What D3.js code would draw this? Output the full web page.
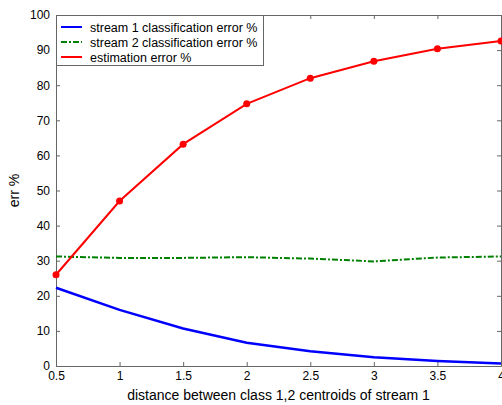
<!DOCTYPE html>
<html>
<head>
<meta charset="utf-8">
<script src="https://cdn.jsdelivr.net/npm/d3@7"></script>
<style>
  body { margin: 0; background: #fff; }
  svg { display: block; font-family: "Liberation Sans", Arial, sans-serif; }
</style>
</head>
<body>
<svg id="chart" width="502" height="405"></svg>
<script>
var distance = [0.5, 1, 1.5, 2, 2.5, 3, 3.5, 4];
var stream1Err = [22.3, 16.0, 10.7, 6.6, 4.2, 2.5, 1.4, 0.7];
var stream2Err = [31.2, 30.8, 30.8, 31.0, 30.6, 29.8, 30.9, 31.2];
var estimErr = [26.0, 47.0, 63.2, 74.7, 82.0, 86.8, 90.4, 92.6];
var xTicks = [0.5, 1, 1.5, 2, 2.5, 3, 3.5, 4];
var yTicks = [0, 10, 20, 30, 40, 50, 60, 70, 80, 90, 100];
var legendNames = ["stream 1 classification error %", "stream 2 classification error %", "estimation error %"];

var margin = {top: 15, right: 1, bottom: 39, left: 56};
var width = 502 - margin.left - margin.right,
    height = 405 - margin.top - margin.bottom;

var svg = d3.select("#chart");
var g = svg.append("g")
    .attr("transform", "translate(" + margin.left + "," + margin.top + ")");

var x = d3.scaleLinear().domain([0.5, 4]).range([0, width]);
var y = d3.scaleLinear().domain([0, 100]).range([height, 0]);

var axisColor = "#666";

// box axes, all ticks pointing inward
var axBottom = g.append("g")
    .attr("transform", "translate(0," + height + ")")
    .call(d3.axisBottom(x).tickValues(xTicks).tickSizeInner(-4).tickSizeOuter(0).tickPadding(5).tickFormat(d3.format("")));
var axTop = g.append("g")
    .call(d3.axisTop(x).tickValues(xTicks).tickSizeInner(-4).tickSizeOuter(0).tickFormat(""));
var axLeft = g.append("g")
    .call(d3.axisLeft(y).tickValues(yTicks).tickSizeInner(-4).tickSizeOuter(0).tickPadding(6));
var axRight = g.append("g")
    .attr("transform", "translate(" + width + ",0)")
    .call(d3.axisRight(y).tickValues(yTicks).tickSizeInner(-4).tickSizeOuter(0).tickFormat(""));

[axBottom, axTop, axLeft, axRight].forEach(function(a) {
    a.select(".domain").attr("stroke", axisColor).attr("stroke-width", 1);
    a.selectAll(".tick line").attr("stroke", axisColor);
    a.selectAll(".tick text").attr("fill", "#000").style("font-size", "12px");
});

var line = d3.line()
    .x(function(d, i) { return x(distance[i]); })
    .y(function(d) { return y(d); });

g.append("path")
    .datum(stream2Err)
    .attr("fill", "none")
    .attr("stroke", "#008000")
    .attr("stroke-width", 2)
    .attr("stroke-dasharray", "6,2,2,2")
    .attr("d", line);

g.append("path")
    .datum(stream1Err)
    .attr("fill", "none")
    .attr("stroke", "#0000ff")
    .attr("stroke-width", 2.5)
    .attr("d", line);

g.append("path")
    .datum(estimErr)
    .attr("fill", "none")
    .attr("stroke", "#ff0000")
    .attr("stroke-width", 2)
    .attr("d", line);

g.selectAll(".dot")
    .data(estimErr)
    .enter()
  .append("circle")
    .attr("class", "dot")
    .attr("cx", function(d, i) { return x(distance[i]); })
    .attr("cy", function(d) { return y(d); })
    .attr("r", 3.5)
    .attr("fill", "#ff0000");

// legend
var legend = g.append("g");
legend.append("rect")
    .attr("x", 0.5).attr("y", 0.5)
    .attr("width", 207).attr("height", 50)
    .attr("fill", "#fff")
    .attr("stroke", axisColor);

var legStyles = [
    {color: "#0000ff", dash: null},
    {color: "#008000", dash: "6,2,2,2"},
    {color: "#ff0000", dash: null}
];
legendNames.forEach(function(name, i) {
    var ly = 12 + i * 15;
    legend.append("line")
        .attr("x1", 5).attr("x2", 26)
        .attr("y1", ly).attr("y2", ly)
        .attr("stroke", legStyles[i].color)
        .attr("stroke-width", 2)
        .attr("stroke-dasharray", legStyles[i].dash);
    legend.append("text")
        .attr("x", 34).attr("y", ly + 4.5)
        .style("font-size", "12.5px")
        .text(name);
});

// axis labels
svg.append("text")
    .attr("x", margin.left + width / 2)
    .attr("y", 400)
    .attr("text-anchor", "middle")
    .style("font-size", "14px")
    .text("distance between class 1,2 centroids of stream 1");

svg.append("text")
    .attr("transform", "translate(19," + (margin.top + height / 2) + ") rotate(-90)")
    .attr("text-anchor", "middle")
    .style("font-size", "14px")
    .text("err %");
</script>
</body>
</html>
